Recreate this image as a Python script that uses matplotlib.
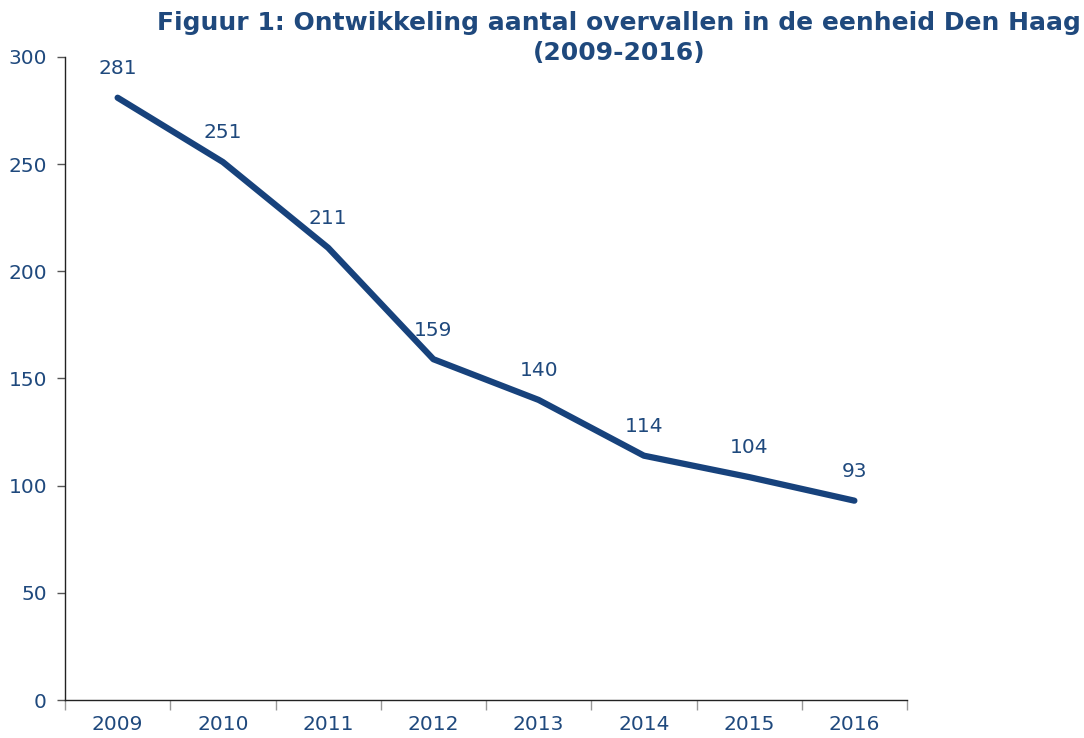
import matplotlib
matplotlib.use("Agg")
import matplotlib.pyplot as plt
import numpy as np

years = ["2009", "2010", "2011", "2012", "2013", "2014", "2015", "2016"]
values = [281, 251, 211, 159, 140, 114, 104, 93]
title = "Figuur 1: Ontwikkeling aantal overvallen in de eenheid Den Haag\n(2009-2016)"

navy = "#17427C"
text_c = "#1F497D"

fig = plt.figure(figsize=(10.84, 7.38), dpi=100)
ax = fig.add_axes([65/1084, 38/738, (907-65)/1084, (700-57)/738])

x = np.arange(len(years))
ax.plot(x, values, color=navy, lw=4.5, solid_capstyle="round", solid_joinstyle="round")
for xi, v in zip(x, values):
    ax.annotate(str(v), (xi, v), xytext=(0, 21), textcoords="offset points",
                ha="center", va="center", fontsize=14.5, color=text_c)

ax.set_xlim(-0.5, len(years) - 0.5)
ax.set_ylim(0, 300)
ax.set_yticks(range(0, 301, 50))
ax.tick_params(axis="y", length=6, width=1, color="#555555", labelsize=14.5, labelcolor=text_c, pad=7)
ax.set_xticks(x)
ax.set_xticklabels(years)
ax.tick_params(axis="x", length=0, labelsize=14.5, labelcolor=text_c, pad=11)
ax.set_xticks(np.arange(-0.5, len(years)), minor=True)
ax.tick_params(axis="x", which="minor", length=7, width=1, color="#999999")
for s in ["top", "right"]:
    ax.spines[s].set_visible(False)
for s in ["left", "bottom"]:
    ax.spines[s].set_color("#222222")
    ax.spines[s].set_linewidth(1)

fig.text(619/1084, 1 - 38/738, title, ha="center", va="center", fontsize=18,
         fontweight="bold", color=text_c, linespacing=1.3)

fig.savefig("out.png", dpi=100)
